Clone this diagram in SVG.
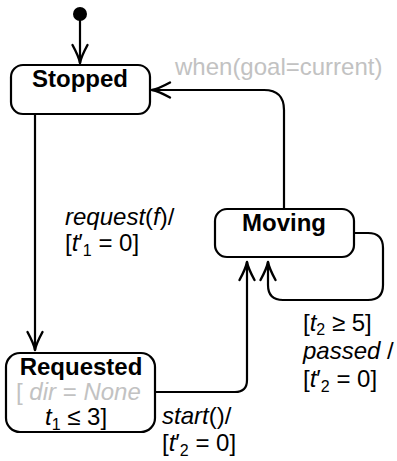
<svg xmlns="http://www.w3.org/2000/svg" width="397" height="461" viewBox="0 0 397 461">
<defs>
<marker id="arr" markerUnits="userSpaceOnUse" markerWidth="24" markerHeight="20" viewBox="-20 -10 24 20" refX="0" refY="0" orient="auto">
<path d="M-18,-7.5 Q-6,-1 0,0 Q-6,1 -18,7.5" fill="none" stroke="#000" stroke-width="2.4" stroke-linecap="round" stroke-linejoin="round"/>
</marker>
<style>
.st{fill:#fff;stroke:#000;stroke-width:2.2}
.nm{font-family:"Liberation Sans",Arial,sans-serif;font-weight:bold;font-size:24px;fill:#000;text-anchor:middle}
.lb{font-family:"Liberation Sans",Arial,sans-serif;font-size:24px;fill:#000}
.gr{fill:#c2c2c2}
.it{font-style:italic}
.cn{fill:none;stroke:#000;stroke-width:2.2;marker-end:url(#arr)}
</style>
</defs>
<g id="connectors">
<path class="cn" d="M80,20 V63"/>
<path class="cn" d="M35,114 V350"/>
<path class="cn" d="M155,392 H235 Q247,392 247,380 V262"/>
<path class="cn" d="M354,233 H368 Q383,233 383,248 V285 Q383,300 368,300 H283 Q268,300 268,285 V262"/>
<path class="cn" d="M284,209 V110 Q284,90 264,90 H152"/>
</g>
<g id="initial"><circle cx="80" cy="14" r="7" fill="#000"/></g>
<g id="stopped">
<rect class="st" x="11" y="65" width="139" height="49" rx="12"/>
<text class="nm" x="80" y="87">Stopped</text>
</g>
<g id="moving">
<rect class="st" x="215" y="209" width="139" height="48" rx="12"/>
<text class="nm" x="284" y="231" font-size="23">Moving</text>
</g>
<g id="requested">
<rect class="st" x="6" y="353" width="149" height="79" rx="14"/>
<text class="nm" x="81" y="375">Requested</text>
<text class="lb gr" x="16" y="400">[ <tspan class="it">dir</tspan> = <tspan class="it">None</tspan></text>
<text class="lb" x="45" y="425"><tspan class="it">t</tspan><tspan font-size="16" dy="5">1</tspan><tspan dy="-5"> ≤ 3]</tspan></text>
</g>
<g id="labels">
<text class="lb gr" x="175" y="75">when(goal=current)</text>
<text class="lb" x="65" y="225"><tspan class="it">request</tspan>(<tspan class="it">f</tspan>)/</text>
<text class="lb" x="65" y="251">[<tspan class="it">t</tspan>′<tspan font-size="16" dy="5">1</tspan><tspan dy="-5"> = 0]</tspan></text>
<text class="lb" x="303" y="331">[<tspan class="it">t</tspan><tspan font-size="16" dy="4">2</tspan><tspan dy="-4"> ≥ 5]</tspan></text>
<text class="lb" x="303" y="359" font-size="22"><tspan class="it">passed</tspan> /</text>
<text class="lb" x="303" y="387">[<tspan class="it">t</tspan>′<tspan font-size="16" dy="5">2</tspan><tspan dy="-5"> = 0]</tspan></text>
<text class="lb" x="162" y="424"><tspan class="it">start</tspan>()/</text>
<text class="lb" x="162" y="451">[<tspan class="it">t</tspan>′<tspan font-size="16" dy="5">2</tspan><tspan dy="-5"> = 0]</tspan></text>
</g>
</svg>
